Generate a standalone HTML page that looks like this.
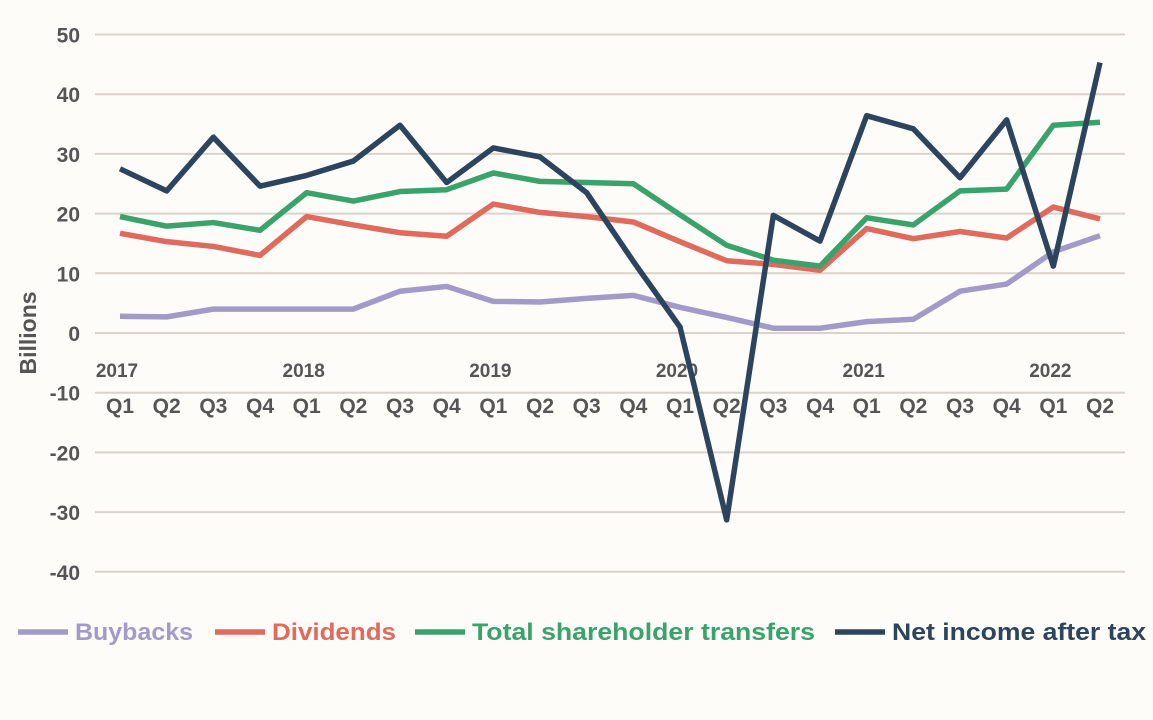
<!DOCTYPE html>
<html><head><meta charset="utf-8"><style>
html,body{margin:0;padding:0;background:#fdfcf9;}
svg{display:block;font-family:"Liberation Sans",sans-serif;font-weight:bold;}
</style></head><body>
<svg id="chart" width="1153" height="720" viewBox="0 0 1153 720" xmlns="http://www.w3.org/2000/svg">
<rect width="1153" height="720" fill="#fdfcf9"/>
<g id="grid"></g><g id="yticks"></g><g id="xlabels"></g><g id="series"></g>
<text x="36" y="333" transform="rotate(-90 36 333)" text-anchor="middle" font-size="23" fill="#555">Billions</text>
<g id="legend"></g>
</svg>
<script>
const quarters=["Q1","Q2","Q3","Q4","Q1","Q2","Q3","Q4","Q1","Q2","Q3","Q4","Q1","Q2","Q3","Q4","Q1","Q2","Q3","Q4","Q1","Q2"];
const years=["2017","2018","2019","2020","2021","2022"];
const yTicks=[50,40,30,20,10,0,-10,-20,-30,-40];
const buybacks=[2.8,2.7,4,4,4,4,7,7.8,5.3,5.2,5.8,6.3,4.3,2.6,0.8,0.8,1.9,2.3,7,8.2,13.6,16.3];
const dividends=[16.7,15.3,14.5,13,19.5,18.1,16.8,16.2,21.6,20.2,19.5,18.6,15.3,12.1,11.5,10.5,17.5,15.8,17,15.9,21.1,19.1];
const totalTransfers=[19.5,17.9,18.5,17.2,23.5,22.1,23.7,24,26.8,25.4,25.2,25,19.8,14.7,12.2,11.2,19.3,18.1,23.8,24.1,34.8,35.3];
const netIncome=[27.5,23.8,32.8,24.6,26.4,28.8,34.8,25.2,31,29.5,23.5,12,1,-31.3,19.7,15.4,36.4,34.2,26,35.7,11.2,45.3];
const NS="http://www.w3.org/2000/svg";
const y=v=>333-v*5.97;
const x=i=>120+i*(980/(quarters.length-1));
function mk(tag,attrs,parent){const e=document.createElementNS(NS,tag);for(const k in attrs)e.setAttribute(k,attrs[k]);parent.appendChild(e);return e;}
const grid=document.getElementById('grid'),yt=document.getElementById('yticks'),xl=document.getElementById('xlabels'),sg=document.getElementById('series'),lg=document.getElementById('legend');
yTicks.forEach(v=>{
 const l=mk('line',{x1:95,x2:1125,y1:y(v),y2:y(v),stroke:'#d9d4cb','stroke-width':2},grid);
 
 
 const t=mk('text',{x:80,y:y(v)+8,'text-anchor':'end','font-size':21,fill:'#555'},yt);
 t.textContent=v;
 
 
});
quarters.forEach((q,i)=>{
 const t=mk('text',{x:x(i),y:413,'text-anchor':'middle','font-size':21,fill:'#555'},xl);
 t.textContent=q;
 
 
});
years.forEach((yr,j)=>{
 const t=mk('text',{x:x(j*4)-3,y:377,'text-anchor':'middle','font-size':19,fill:'#555'},xl);
 t.textContent=yr;
 
 
});
const series=[["Buybacks",buybacks,"#a29bc9",18,118],["Dividends",dividends,"#e06a5b",215,124],["Total shareholder transfers",totalTransfers,"#3aa36b",415,343],["Net income after tax",netIncome,"#2c445e",835,254]];
series.forEach(([name,vals,col,lx,tw])=>{
 const p=mk('polyline',{points:vals.map((v,i)=>x(i)+','+y(v)).join(' '),fill:'none',stroke:col,'stroke-width':5.5,'stroke-linejoin':'round'},sg);
 
 
 const g=mk('g',{},lg);
 
 
 mk('line',{x1:lx,x2:lx+50,y1:632,y2:632,stroke:col,'stroke-width':5.5},g);
 const t=mk('text',{x:lx+57,y:640,'font-size':24,fill:col,textLength:tw,lengthAdjust:'spacingAndGlyphs'},g);
 t.textContent=name;
});
</script>
</body></html>
